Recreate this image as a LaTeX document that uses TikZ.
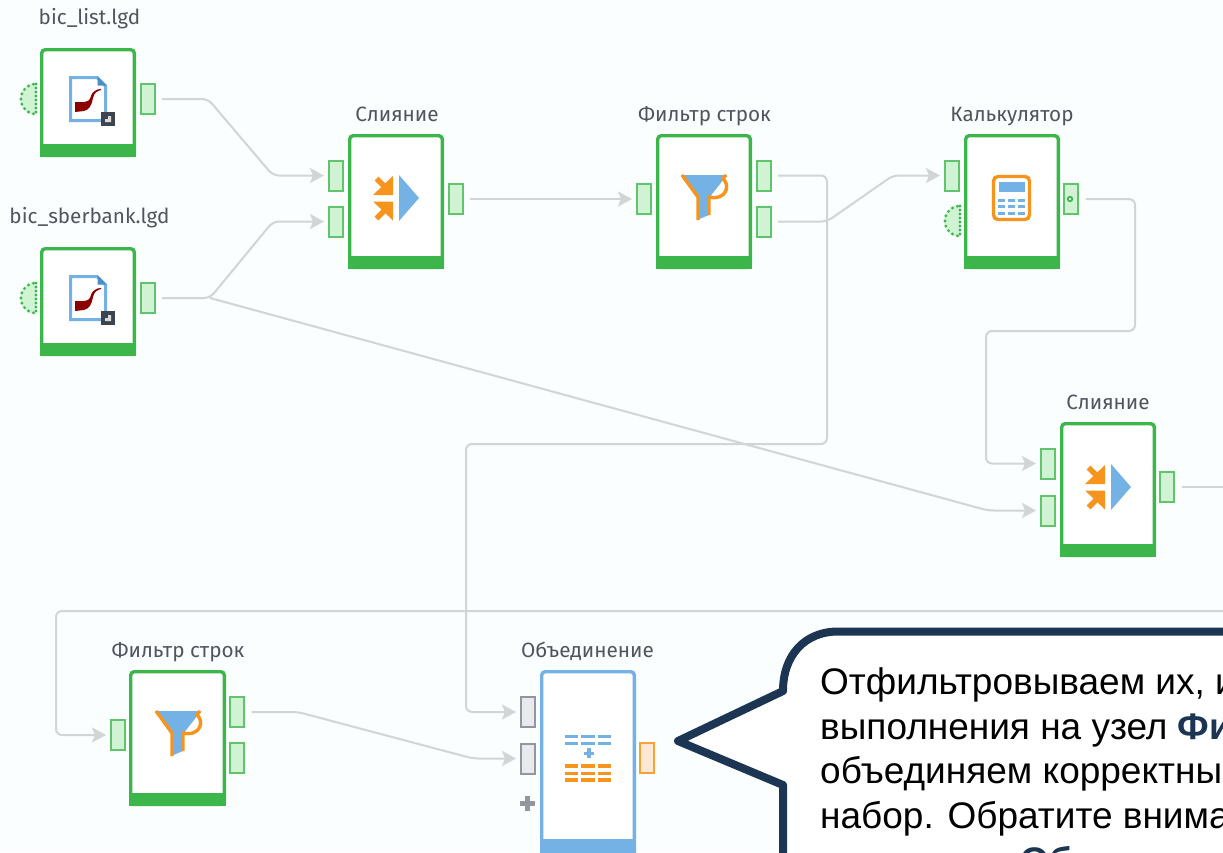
\documentclass[tikz,border=0pt]{standalone}
\usepackage{fontspec}
\setmainfont{Fira Sans}
\newfontfamily\arialf{Liberation Sans}
\usetikzlibrary{arrows.meta}
\definecolor{bgc}{HTML}{FAFEFF}
\definecolor{grn}{HTML}{3CB54A}
\definecolor{grnl}{HTML}{CFF3D3}
\definecolor{blu}{HTML}{74B1E4}
\definecolor{bluf}{HTML}{4A8FC7}
\definecolor{org}{HTML}{F7941D}
\definecolor{wire}{HTML}{D2D4D6}
\definecolor{lbl}{HTML}{50545E}
\definecolor{navy}{HTML}{1C3553}
\definecolor{dgr}{HTML}{3E4350}
\definecolor{gport}{HTML}{E9EAEE}
\definecolor{gportd}{HTML}{94969E}
\definecolor{orgl}{HTML}{FDE9D3}
\tikzset{
  x=1pt,y=-1pt,
  wirel/.style={draw=wire,line width=2pt,rounded corners=6pt,shorten <=6.5pt},
  wirea/.style={wirel,-{Stealth[length=14pt,width=15pt,inset=3pt]},shorten >=4pt},
  portbox/.style={draw=grn!75!grnl,fill=grnl,line width=2pt,inner sep=0pt,minimum width=14pt,minimum height=30pt,rectangle},
  gpt/.style={portbox,draw=gportd,fill=gport},
  opt/.style={portbox,draw=org!85!orgl,fill=orgl},
  caplbl/.style={font=\fontsize{20.7}{24}\selectfont,text=lbl,inner sep=0pt,anchor=base},
  calltxt/.style={anchor=base west,inner sep=0pt,font=\arialf\fontsize{37}{45}\selectfont,text=black},
}
% box: x0,y0,x1,y1,colour,bar top
\newcommand{\nodebox}[6]{%
  \draw[#5,line width=3.4pt,rounded corners=3.5pt,fill=white] (#1-1+1.7,#2-1+1.7) rectangle (#3+1-1.7,#4-1.7);
  \fill[#5] (#1-1,#6) rectangle (#3+1,#4);
}
\newcommand{\docicon}[2]{\begin{scope}[shift={(#1,#2)}]
  \draw[blu,line width=3pt,fill=white] (-17.5,-21.5) -- (9,-21.5) -- (17.5,-13) -- (17.5,21.5) -- (-17.5,21.5) -- cycle;
  \fill[bluf] (9.5,-23) -- (19,-13.5) -- (9.5,-13.5) -- cycle;
  \fill[red!55!black] (-13,3) -- (-5,3) .. controls (0,3) and (2,1) .. (3,-3) .. controls (4,-7) and (8,-10) .. (13,-10) -- (13,-9) .. controls (9,-8) and (6,-6) .. (5,-1) .. controls (4,6) and (1,11) .. (-4,12) -- (-13,13) -- cycle;
  \fill[dgr] (13,13) rectangle (27,26.5);
  \fill[white!80!dgr] (17,23) -- (17,20) -- (20,20) -- (20,17) -- (23,17) -- (23,23) -- cycle;
\end{scope}}
\newcommand{\mergeicon}[2]{\begin{scope}[shift={(#1,#2)}]
  \fill[org] (-4,-22) -- (-4,-3) -- (-24,-3) -- cycle;
  \draw[org,line width=5.5pt] (-13,-12) -- (-20.5,-19.5);
  \fill[org] (-4,22.5) -- (-4,3.5) -- (-24,3.5) -- cycle;
  \draw[org,line width=5.5pt] (-13,13) -- (-20.5,20.5);
  \fill[blu] (2,-23) -- (22,0) -- (2,23) -- cycle;
\end{scope}}
\newcommand{\funnelicon}[2]{\begin{scope}[shift={(#1,#2)}]
  \fill[blu] (-22,-23) -- (24,-23) -- (6,0) -- (6,17) -- (-6,22) -- (-6,0) -- cycle;
  \draw[org,line width=3.4pt] (-21,-23) -- (-5,-1) -- (-5,22);
  \draw[org,line width=3.4pt] (23,-23) -- (19,-18);
  \draw[org,line width=3.4pt] (19,-20) .. controls (28,-14) and (24,3) .. (6,-1) -- (6,17);
\end{scope}}
\newcommand{\dotsemi}[2]{\begin{scope}[shift={(#1,#2)}]
  \fill[grnl] (0,-16) arc[start angle=270,end angle=90,radius=16] -- cycle;
  \foreach \a in {100,120,...,260} \fill[grn] (\a:15) circle (1.6);
  \foreach \yy in {-15,-11,...,15} \fill[grn] (0,\yy) circle (1.6);
\end{scope}}
\newcommand{\tabrow}[3]{\foreach \xx in {0,16.4,32.8} \fill[#3] (#1+\xx,#2) rectangle +(13.3,3.2);}
\begin{document}
\begin{tikzpicture}
\useasboundingbox (0,0) rectangle (1223,852);
\clip (0,0) rectangle (1223,852);
\fill[bgc] (0,0) rectangle (1223,852);

% nodes
\nodebox{41}{49}{135}{157}{grn}{144}
\nodebox{41}{248}{135}{356}{grn}{343}
\nodebox{349}{135}{443}{269}{grn}{256}
\nodebox{657}{135}{751}{269}{grn}{256}
\nodebox{965}{135}{1059}{269}{grn}{256}
\nodebox{1061}{423}{1155}{557}{grn}{544}
\nodebox{130}{671}{225}{806}{grn}{793}
\nodebox{541}{671}{635}{870}{blu}{839}

% labels
\node[caplbl] (l1) at (89.5,24) {bic\_list.lgd};
\node[caplbl] (l2) at (89.5,223) {bic\_sberbank.lgd};
\node[caplbl] (l3) at (397,121) {Слияние};
\node[caplbl] (l4) at (704.5,121) {Фильтр строк};
\node[caplbl] (l5) at (1012,121) {Калькулятор};
\node[caplbl] (l6) at (1108,409) {Слияние};
\node[caplbl] (l7) at (178,657) {Фильтр строк};
\node[caplbl] (l8) at (587.5,657) {Объединение};

% ports
\node[portbox] (p1) at (147.5,99) {};
\node[portbox] (p2) at (147.5,298) {};
\node[portbox] (p3) at (336,175.5) {};
\node[portbox] (p4) at (336,221.5) {};
\node[portbox] (p5) at (455.5,199) {};
\node[portbox] (p6) at (644,199) {};
\node[portbox] (p7) at (763.5,175.5) {};
\node[portbox] (p8) at (763.5,221.5) {};
\node[portbox] (p9) at (952,175.5) {};
\node[portbox] (p10) at (1071,199) {};
\node[portbox] (p11) at (1048,463.5) {};
\node[portbox] (p12) at (1048,510.5) {};
\node[portbox] (p13) at (1167,486.5) {};
\node[portbox] (p14) at (118,735) {};
\node[portbox] (p15) at (237,712) {};
\node[portbox] (p16) at (237,758) {};
\node[gpt] (p17) at (528,712) {};
\node[gpt] (p18) at (528,758.5) {};
\node[opt] (p19) at (647,758) {};
\draw[grn,line width=1.6pt,fill=grnl] (1070,199) circle (2.3);

% free ends and branch
\coordinate (br) at (210,298);
\coordinate (eR) at (1230,486.5);
\coordinate (eL) at (1230,611);

% wires
\draw[wirea] (p1.east) -- (208,99) -- (273,175.5) -- (p3.west);
\draw[wirea] (p2.east) -- (br) -- (273,221.5) -- (p4.west);
\draw[wirea,shorten <=0pt] (br) -- (988,510.5) -- (p12.west);
\draw[wirea] (p5.east) -- (p6.west);
\draw[wirea] (p7.east) -- (827,175.5) -- (827,444) -- (466,444) -- (466,712) -- (p17.west);
\draw[wirea] (p8.east) -- (827,221.5) -- (893,175.5) -- (p9.west);
\draw[wirea] (p10.east) -- (1135,199) -- (1135,331) -- (986,331) -- (986,463.5) -- (p11.west);
\draw[wirel] (p13.east) -- (eR);
\draw[wirea,shorten <=0pt] (eL) -- (56,611) -- (56,735) -- (p14.west);
\draw[wirea] (p15.east) -- (298,712) -- (473,758.5) -- (p18.west);

% semi-circles
\dotsemi{36}{99}
\dotsemi{36}{298}
\dotsemi{960}{221}

% icons
\docicon{88}{99}
\docicon{88}{298}
\mergeicon{397}{198}
\mergeicon{1109}{487}
\funnelicon{703}{198}
\funnelicon{177}{734}
% calculator
\begin{scope}[shift={(1011.5,198)}]
  \draw[org,line width=3.4pt,rounded corners=4.5pt,fill=white] (-18,-21.5) rectangle (18,21.5);
  \fill[blu] (-13,-16) rectangle (13.5,-6);
  \foreach \yy in {0.5,7,13.5} \foreach \xx in {-13.2,-3.5,6.5} \fill[blu] (\xx,\yy) rectangle +(6.8,3.3);
\end{scope}
% union icon
\tabrow{565}{735}{blu}
\tabrow{565}{741.7}{blu}
\fill[blu] (584,751.5) rectangle +(10,3.2);
\fill[blu] (587.4,748) rectangle +(3.2,10);
\tabrow{565}{764.3}{org}
\tabrow{565}{771.5}{org}
\tabrow{565}{778.3}{org}
% plus
\fill[gportd] (520,800.5) rectangle +(15,5);
\fill[gportd] (525,795.5) rectangle +(5,15);

% callout
\path[draw=navy,line width=8pt,fill=white,line join=round]
  (1240,631.5) -- (838,631.5) .. controls (805,631.5) and (783,655) .. (783,691)
  -- (678,741) -- (783,785) -- (783,870) -- (1240,870) -- cycle;
\node[calltxt] (t1) at (820,694) {Отфильтровываем их, и};
\node[calltxt] (t2) at (820,739) {выполнения на узел \textcolor{navy}{\bfseries Фи}};
\node[calltxt] (t3) at (820,783) {объединяем корректны};
\node[calltxt] (t4) at (820,828) {набор. Обратите внима};
\node[calltxt,font=\arialf\fontsize{37}{45}\selectfont\bfseries,text=navy] (t5) at (1020,873) {Об};
\end{tikzpicture}
\end{document}
